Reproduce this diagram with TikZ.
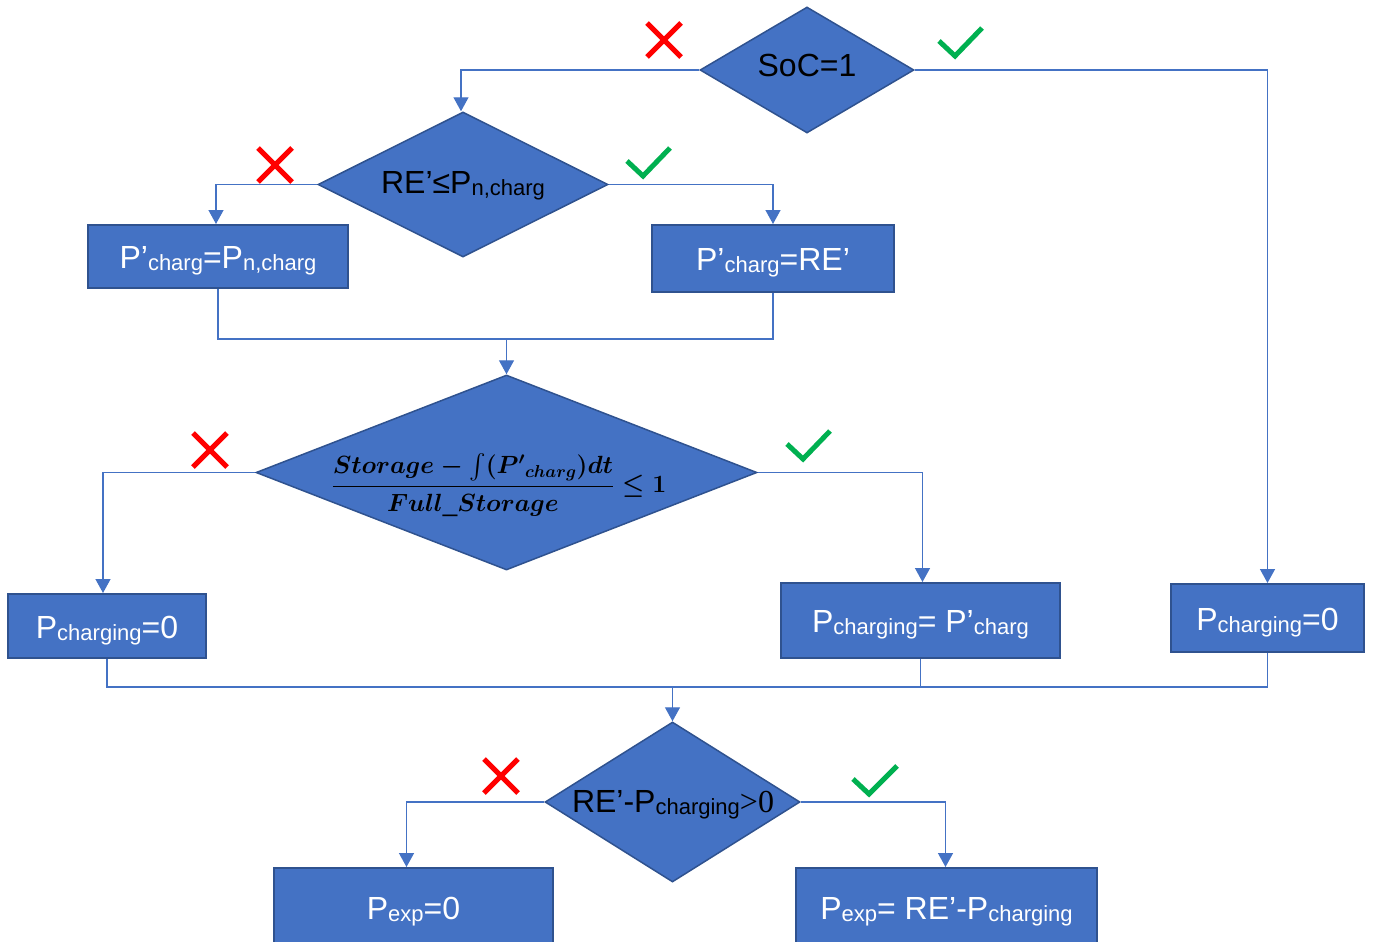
\documentclass[tikz,border=0pt]{standalone}
\usepackage{amsmath}
\usepackage{fontspec}
\setmainfont{Liberation Sans}
\newfontfamily\serifR{Liberation Serif}
\usetikzlibrary{shapes.geometric,arrows.meta}
\definecolor{fillb}{HTML}{4472C4}
\definecolor{edgeb}{HTML}{2F528F}
\definecolor{lineb}{HTML}{4472C4}
\definecolor{xred}{HTML}{FF0000}
\definecolor{okgreen}{HTML}{00B050}
\newcommand{\sbs}[1]{\raisebox{-2pt}{\fontsize{22}{26}\selectfont #1}}
\newsavebox{\formbox}
\tikzset{
  dia/.style={diamond, draw=edgeb, fill=fillb, line width=1.5pt, inner sep=0pt},
  boxn/.style={rectangle, draw=edgeb, fill=fillb, line width=2pt, inner sep=0pt, text=white, font=\fontsize{32}{38}\selectfont, text height=28pt, text depth=4pt},
  dtext/.style={text=black, font=\fontsize{32}{38}\selectfont, inner sep=0pt, text height=28pt, text depth=4pt},
  ftext/.style={text=black, inner sep=0pt},
  conn/.style={draw=lineb, line width=1.4pt},
  arr/.style={conn, -{Triangle[length=14pt,width=15pt]}},
  crossm/.style={draw=xred, line width=5pt},
  checkm/.style={draw=okgreen, line width=5pt}
}
\begin{document}
\sbox{\formbox}{\fontsize{26}{31}\selectfont\boldmath$\displaystyle\frac{Storage-{\textstyle\int}(P^{\prime}{}_{charg})dt}{Full\_Storage}\le 1$}%
\begin{tikzpicture}[x=1pt,y=-1pt]
\useasboundingbox (0,0) rectangle (1374,942);
% diamonds
\node[dia, minimum width=214pt, minimum height=126pt] (d1) at (807,70) {};
\node[dtext] (t1) at (807,65) {SoC=1};
\node[dia, minimum width=290pt, minimum height=145pt] (d2) at (463,184.5) {};
\node[dtext] (t2) at (463,181) {RE’≤P\sbs{n,charg}};
\node[dia, minimum width=501pt, minimum height=195pt] (d3) at (506.5,472.5) {};
\node[ftext] (t3) at (499,485) {\usebox{\formbox}};
\node[dia, minimum width=255pt, minimum height=160pt] (d4) at (672.5,802) {};
\node[dtext] (t4) at (673,800) {RE’-P\sbs{charging}{\serifR >0}};
% boxes
\node[boxn, minimum width=260pt, minimum height=63pt] (b1) at (218,256.5) {P’\sbs{charg}=P\sbs{n,charg}};
\node[boxn, minimum width=242pt, minimum height=67pt] (b2) at (773,258.5) {P’\sbs{charg}=RE’};
\node[boxn, minimum width=198pt, minimum height=64pt] (b4) at (107,626) {P\sbs{charging}=0};
\node[boxn, minimum width=279pt, minimum height=75pt] (b5) at (920.5,620.5) {P\sbs{charging}= P’\sbs{charg}};
\node[boxn, minimum width=193pt, minimum height=68pt] (b6) at (1267.5,618) {P\sbs{charging}=0};
\node[boxn, minimum width=279pt, minimum height=78pt] (b7) at (413.5,907) {P\sbs{exp}=0};
\node[boxn, minimum width=301pt, minimum height=78pt] (b8) at (946.5,907) {P\sbs{exp}= RE’-P\sbs{charging}};
% connectors
\draw[arr] (d1.west) -| ([xshift=-2pt]d2.north);
\draw[arr] (d1.east) -| (b6.north);
\draw[arr] (d2.west) -| ([xshift=-2pt]b1.north);
\draw[arr] (d2.east) -| (b2.north);
\coordinate (j1) at (506.5,339);
\draw[conn] (b1.south) -- (b1.south |- j1) -- (b2.south |- j1) -- (b2.south);
\draw[arr] (j1) -- (d3.north);
\draw[arr] (d3.west) -| ([xshift=-4pt]b4.north);
\draw[arr] (d3.east) -| ([xshift=2pt]b5.north);
\coordinate (j2) at (672.5,687);
\draw[conn] (b4.south) -- (b4.south |- j2) -- (b6.south |- j2) -- (b6.south);
\draw[conn] (b5.south) -- (b5.south |- j2);
\draw[arr] (j2) -- (d4.north);
\draw[arr] (d4.west) -| ([xshift=-7pt]b7.north);
\draw[arr] (d4.east) -| ([xshift=-1pt]b8.north);
% marks
\draw[crossm] (647,23) -- (681,57) (681,23) -- (647,57);
\draw[crossm] (258,148) -- (292,182) (292,148) -- (258,182);
\draw[crossm] (193,433) -- (227,467) (227,433) -- (193,467);
\draw[crossm] (484,759) -- (518,793) (518,759) -- (484,793);
\draw[checkm] (939,41) -- (955,56) -- (982,28);
\draw[checkm] (627,161) -- (643,176) -- (670,148);
\draw[checkm] (787,444) -- (803,459) -- (830,431);
\draw[checkm] (853,779) -- (869,794) -- (897,766);
\end{tikzpicture}
\end{document}
